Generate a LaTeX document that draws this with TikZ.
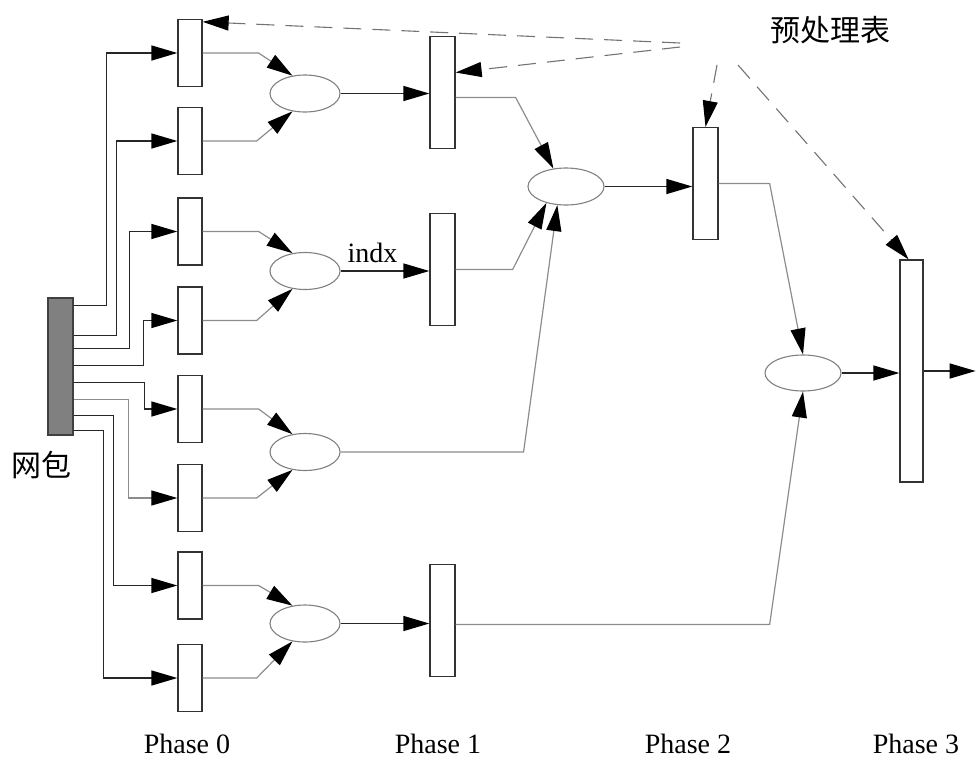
\documentclass[tikz,border=0pt]{standalone}
\usepackage{fontspec}
\setmainfont{Liberation Serif}
\newfontfamily\cjk{Noto Sans CJK SC}
\usetikzlibrary{arrows.meta,shapes.geometric,calc}
\begin{document}
\begin{tikzpicture}[x=1pt,y=-1pt,
  >={Triangle[length=26pt,width=15pt,color=black]},
  pbox/.style={rectangle,draw=black!80,line width=1.3pt,fill=white,minimum width=24pt,minimum height=67pt,inner sep=0pt},
  p1box/.style={pbox,minimum width=25pt,minimum height=112pt},
  oval/.style={ellipse,draw=black!50,line width=1.1pt,minimum width=70pt,minimum height=37pt,inner sep=0pt},
  bigoval/.style={oval,minimum width=76pt},
  bwire/.style={draw=black!85,line width=1.4pt,->},
  gwire/.style={draw=black!45,line width=1.2pt,->},
  dwire/.style={draw=black!55,line width=1.1pt,dash pattern=on 18pt off 11pt,->},
  phase/.style={font=\fontsize{28}{32}\selectfont,anchor=base,inner sep=0pt},
  cjklbl/.style={font=\cjk\fontsize{30}{34}\selectfont,inner sep=0pt},
  lbl/.style={font=\fontsize{28}{32}\selectfont,anchor=base,inner sep=0pt}
]
\useasboundingbox (0,0) rectangle (976,758);

% source bar
\node[rectangle,draw=black!75,fill=black!50,line width=1.3pt,minimum width=25pt,minimum height=137pt,inner sep=0pt] (bar) at (60.5,366.5) {};
\node[cjklbl] (wb) at (41,465) {网包};

% phase 0 boxes
\node[pbox] (b1) at (190,53) {};
\node[pbox] (b2) at (190,141) {};
\node[pbox] (b3) at (190,231.5) {};
\node[pbox] (b4) at (190,320.5) {};
\node[pbox] (b5) at (190,409) {};
\node[pbox] (b6) at (190,498) {};
\node[pbox] (b7) at (190,585.5) {};
\node[pbox] (b8) at (190,678) {};

% phase 0 ovals
\node[oval] (e1) at (305,93.5) {};
\node[oval] (e2) at (305,271) {};
\node[oval] (e3) at (305,452) {};
\node[oval] (e4) at (305,623.5) {};

% phase 1 boxes
\node[p1box] (p1a) at (442.5,92.5) {};
\node[p1box] (p1b) at (442.5,269.5) {};
\node[p1box] (p1c) at (442.5,620.5) {};

% phase 2
\node[bigoval] (e5) at (566,186.5) {};
\node[p1box] (p2) at (705.5,183.5) {};

% phase 3
\node[bigoval,minimum height=36pt] (e6) at (803,373) {};
\node[p1box,minimum width=23pt,minimum height=222pt] (p3) at (911.5,371) {};

% table label
\node[cjklbl] (tbl) at (830,30) {预处理表};
\coordinate (d1) at (680,43);
\coordinate (d1b) at (680,47);
\coordinate (d2) at (717,65);
\coordinate (d3) at (738,65);

% wires from bar
\draw[bwire] ([yshift=-8pt]bar.north east) -| ([xshift=-71pt]b1.west) -- (b1.west);
\draw[bwire] ([yshift=-38pt]bar.north east) -| ([xshift=-61pt]b2.west) -- (b2.west);
\draw[bwire] ([yshift=-51pt]bar.north east) -| ([xshift=-48pt]b3.west) -- (b3.west);
\draw[bwire] ([yshift=-68pt]bar.north east) -| ([xshift=-34pt]b4.west) -- (b4.west);
\draw[bwire] ([yshift=-85pt]bar.north east) -| ([xshift=-33pt]b5.west) -- (b5.west);
\draw[gwire] ([yshift=-102pt]bar.north east) -| ([xshift=-49pt]b6.west) -- (b6.west);
\draw[bwire] ([yshift=-118pt]bar.north east) -| ([xshift=-64pt]b7.west) -- (b7.west);
\draw[bwire] ([yshift=-133pt]bar.north east) -| ([xshift=-74pt]b8.west) -- (b8.west);

% phase 0 boxes to ovals
\draw[gwire] (b1.east) -- ++(56,0) -- (e1.125);
\draw[gwire] (b2.east) -- ++(54,0) -- (e1.235);
\draw[gwire] (b3.east) -- ++(56,0) -- (e2.125);
\draw[gwire] (b4.east) -- ++(54,0) -- (e2.235);
\draw[gwire] (b5.east) -- ++(56,0) -- (e3.125);
\draw[gwire] (b6.east) -- ++(54,0) -- (e3.235);
\draw[gwire] (b7.east) -- ++(56,0) -- (e4.125);
\draw[gwire] (b8.east) -- ++(54,0) -- (e4.235);

% ovals to phase 1
\draw[bwire] (e1.east) -- (e1.east -| p1a.west);
\draw[bwire] (e2.east) -- node[lbl,pos=0.36,yshift=9pt] {indx} (e2.east -| p1b.west);
\draw[bwire] (e4.east) -- (e4.east -| p1c.west);

% into phase 2 oval
\draw[gwire] ([yshift=-5pt]p1a.east) -- ++(60,0) -- (e5.125);
\draw[gwire] (p1b.east) -- ++(57,0) -- (e5.220);
\draw[gwire] (e3.east) -- ++(183,0) -- (e5.245);
\draw[bwire] (e5.east) -- (e5.east -| p2.west);

% into phase 3 oval
\draw[gwire] (p2.east) -- ++(51,0) -- (e6.north);
\draw[gwire] ([yshift=-4pt]p1c.east) -- ++(314,0) -- (e6.south);
\draw[bwire] (e6.east) -- (e6.east -| p3.west);
\draw[bwire] (p3.east) -- ++(52,0) coordinate (out);

% dashed table lines
\draw[dwire] (d1) -- ([yshift=-3pt]b1.north east);
\draw[dwire] (d1b) -- ([yshift=20pt]p1a.east);
\draw[dwire] (d2) -- (p2.north);
\draw[dwire] (d3) -- ([xshift=-3pt]p3.north);

% phase labels
\node[phase] (ph0) at (187,753) {Phase 0};
\node[phase] (ph1) at (438,753) {Phase 1};
\node[phase] (ph2) at (688,753) {Phase 2};
\node[phase] (ph3) at (916,753) {Phase 3};
\end{tikzpicture}
\end{document}
